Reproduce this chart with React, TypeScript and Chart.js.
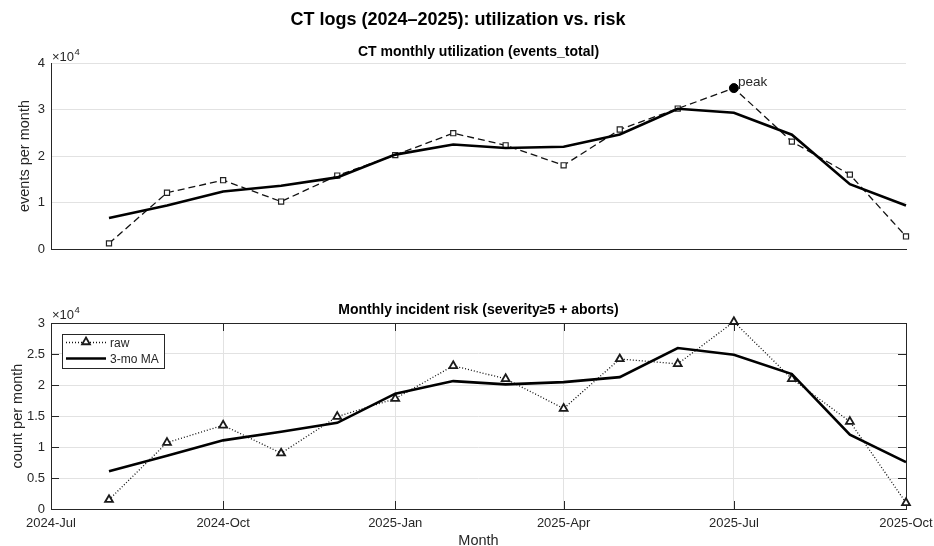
import React, { useEffect, useRef } from "react";
import { Chart, registerables } from "chart.js";

Chart.register(...registerables);

// ---------- data ----------
const months = [
  "2024-08", "2024-09", "2024-10", "2024-11", "2024-12",
  "2025-01", "2025-02", "2025-03", "2025-04", "2025-05",
  "2025-06", "2025-07", "2025-08", "2025-09", "2025-10",
];
const eventsRaw = [1200, 12100, 14800, 10200, 15800, 20200, 24900, 22300, 18000, 25700, 30200, 34600, 23100, 16000, 2700];
const eventsMA = [6650, 9370, 12370, 13600, 15400, 20300, 22470, 21730, 22000, 24630, 30170, 29300, 24570, 13930, 9350];
const riskRaw = [1500, 10700, 13500, 9000, 14900, 17800, 23100, 21000, 16200, 24200, 23400, 30200, 21000, 14100, 1000];
const riskMA = [6100, 8570, 11070, 12470, 13900, 18600, 20630, 20100, 20470, 21270, 25970, 24870, 21770, 12000, 7550];
const quarterTicks = ["2024-07", "2024-10", "2025-01", "2025-04", "2025-07", "2025-10"];
const quarterLabels = ["2024-Jul", "2024-Oct", "2025-Jan", "2025-Apr", "2025-Jul", "2025-Oct"];

const mainTitle = "CT logs (2024\u20132025): utilization vs. risk";
const topTitle = "CT monthly utilization (events_total)";
const bottomTitle = "Monthly incident risk (severity\u22655 + aborts)";
const topYLabel = "events per month";
const bottomYLabel = "count per month";
const xLabel = "Month";
const legendLabels = ["raw", "3-mo MA"];

// ---------- helpers ----------
const FONT = '"Liberation Sans", Arial, Helvetica, sans-serif';
const AXIS = "#262626";
const GRID = "#e2e2e2";

function dayOf(ym: string) {
  const [y, m] = ym.split("-").map(Number);
  return (Date.UTC(y, m - 1, 1) - Date.UTC(2024, 6, 1)) / 86400000;
}
const X_MIN = dayOf(quarterTicks[0]);
const X_MAX = dayOf(quarterTicks[quarterTicks.length - 1]);
const pts = (vals: number[]) => months.map((m, i) => ({ x: dayOf(m), y: vals[i] }));

function drawExp(ctx: CanvasRenderingContext2D, x: number, y: number) {
  ctx.save();
  ctx.fillStyle = AXIS;
  ctx.textBaseline = "middle";
  ctx.textAlign = "left";
  ctx.font = `13px ${FONT}`;
  ctx.fillText("\u00d710", x, y);
  const w = ctx.measureText("\u00d710").width;
  ctx.font = `9.5px ${FONT}`;
  ctx.fillText("4", x + w + 0.5, y - 5);
  ctx.restore();
}

function drawYLabel(ctx: CanvasRenderingContext2D, text: string, x: number, y: number) {
  ctx.save();
  ctx.translate(x, y);
  ctx.rotate(-Math.PI / 2);
  ctx.fillStyle = AXIS;
  ctx.font = `14.5px ${FONT}`;
  ctx.textAlign = "center";
  ctx.textBaseline = "middle";
  ctx.fillText(text, 0, 0);
  ctx.restore();
}

function drawTitle(ctx: CanvasRenderingContext2D, text: string, x: number, y: number, size: number) {
  ctx.save();
  ctx.fillStyle = "#000";
  ctx.font = `bold ${size}px ${FONT}`;
  ctx.textAlign = "center";
  ctx.textBaseline = "middle";
  ctx.fillText(text, x, y);
  ctx.restore();
}

function triangle(ctx: CanvasRenderingContext2D, x: number, y: number, r: number) {
  const s = Math.sin((2 * Math.PI) / 3) * r;
  ctx.beginPath();
  ctx.moveTo(x, y - r);
  ctx.lineTo(x + s, y + r / 2);
  ctx.lineTo(x - s, y + r / 2);
  ctx.closePath();
}

export default function App() {
  const topRef = useRef<HTMLCanvasElement>(null);
  const botRef = useRef<HTMLCanvasElement>(null);

  useEffect(() => {
    const peakIdx = eventsRaw.indexOf(Math.max(...eventsRaw));

    const topPlugin = {
      id: "topDecor",
      afterDraw(chart: any) {
        const ctx = chart.ctx as CanvasRenderingContext2D;
        const a = chart.chartArea;
        drawTitle(ctx, mainTitle, 458, 20, 18);
        drawTitle(ctx, topTitle, (a.left + a.right) / 2, 52, 14);
        drawYLabel(ctx, topYLabel, 25, (a.top + a.bottom) / 2);
        drawExp(ctx, a.left + 1, a.top - 6);
        const xs = chart.scales.x, ys = chart.scales.y;
        const px = xs.getPixelForValue(dayOf(months[peakIdx]));
        const py = ys.getPixelForValue(eventsRaw[peakIdx]);
        ctx.save();
        ctx.fillStyle = AXIS;
        ctx.font = `13.5px ${FONT}`;
        ctx.textAlign = "left";
        ctx.textBaseline = "middle";
        ctx.fillText("peak", px + 4, py - 6);
        ctx.restore();
      },
    };

    const topChart = new Chart(topRef.current!, {
      type: "line",
      data: {
        datasets: [
          {
            data: pts(eventsRaw),
            borderColor: "#111",
            borderWidth: 1.3,
            borderDash: [7, 4],
            pointStyle: "rect",
            pointRadius: 3.6,
            pointBorderColor: "#222",
            pointBorderWidth: 1.2,
            pointBackgroundColor: "#fff",
            tension: 0,
            clip: false,
            order: 2,
          },
          {
            data: pts(eventsMA),
            borderColor: "#000",
            borderWidth: 2.6,
            pointRadius: 0,
            tension: 0,
            clip: false,
            order: 1,
          },
          {
            data: [{ x: dayOf(months[peakIdx]), y: eventsRaw[peakIdx] }],
            showLine: false,
            pointRadius: 4.5,
            pointBackgroundColor: "#000",
            pointBorderColor: "#000",
            clip: false,
            order: 0,
          },
        ] as any,
      },
      options: {
        responsive: false,
        animation: false,
        events: [],
        layout: { padding: { left: 0, right: 28, top: 63, bottom: 0 } },
        plugins: { legend: { display: false }, title: { display: false }, tooltip: { enabled: false } },
        scales: {
          x: {
            type: "linear",
            min: X_MIN,
            max: X_MAX,
            grid: { display: false, drawTicks: false },
            border: { display: true, color: AXIS, width: 1 },
            ticks: { display: false },
            afterFit: (s: any) => { s.height = 41; s.paddingLeft = 0; s.paddingRight = 0; },
          },
          y: {
            type: "linear",
            min: 0,
            max: 40000,
            grid: { color: GRID, drawTicks: false, lineWidth: 1 },
            border: { display: true, color: AXIS, width: 1 },
            ticks: {
              stepSize: 10000,
              padding: 6,
              color: AXIS,
              font: { family: FONT, size: 13 },
              callback: (v: any) => String(Number(v) / 10000),
            },
            afterFit: (s: any) => { s.width = 51; },
          },
        },
      } as any,
      plugins: [topPlugin],
    });

    const botPlugin = {
      id: "botDecor",
      beforeDatasetsDraw(chart: any) {
        const ctx = chart.ctx as CanvasRenderingContext2D;
        const a = chart.chartArea;
        const xs = chart.scales.x, ys = chart.scales.y;
        ctx.save();
        ctx.strokeStyle = AXIS;
        ctx.lineWidth = 1;
        const L = 8;
        ctx.beginPath();
        quarterTicks.forEach((q) => {
          const x = Math.round(xs.getPixelForValue(dayOf(q))) + 0.5;
          ctx.moveTo(x, a.bottom);
          ctx.lineTo(x, a.bottom - L);
          ctx.moveTo(x, a.top);
          ctx.lineTo(x, a.top + L);
        });
        ys.ticks.forEach((t: any) => {
          const y = Math.round(ys.getPixelForValue(t.value)) + 0.5;
          ctx.moveTo(a.left, y);
          ctx.lineTo(a.left + L, y);
          ctx.moveTo(a.right, y);
          ctx.lineTo(a.right - L, y);
        });
        ctx.stroke();
        ctx.strokeRect(Math.round(a.left) + 0.5, Math.round(a.top) + 0.5, Math.round(a.right - a.left), Math.round(a.bottom - a.top));
        ctx.restore();
      },
      afterDraw(chart: any) {
        const ctx = chart.ctx as CanvasRenderingContext2D;
        const a = chart.chartArea;
        drawTitle(ctx, bottomTitle, (a.left + a.right) / 2, 20, 14);
        drawYLabel(ctx, bottomYLabel, 18, (a.top + a.bottom) / 2);
        drawExp(ctx, a.left + 1, a.top - 8);
        ctx.save();
        ctx.fillStyle = AXIS;
        ctx.font = `14.5px ${FONT}`;
        ctx.textAlign = "center";
        ctx.textBaseline = "middle";
        ctx.fillText(xLabel, (a.left + a.right) / 2, 251);
        // legend
        const bx = a.left + 11, by = a.top + 11, bw = 102, bh = 34;
        ctx.fillStyle = "#fff";
        ctx.fillRect(bx, by, bw, bh);
        ctx.strokeStyle = AXIS;
        ctx.lineWidth = 1;
        ctx.strokeRect(bx + 0.5, by + 0.5, bw, bh);
        const y1 = by + 8.5, y2 = by + 24.5;
        ctx.strokeStyle = "#111";
        ctx.lineWidth = 1.3;
        ctx.setLineDash([1, 2]);
        ctx.beginPath();
        ctx.moveTo(bx + 4, y1);
        ctx.lineTo(bx + 44, y1);
        ctx.stroke();
        ctx.setLineDash([]);
        triangle(ctx, bx + 24, y1 - 0.5, 4.5);
        ctx.fillStyle = "#fff";
        ctx.fill();
        ctx.lineWidth = 1.8;
        ctx.strokeStyle = "#1a1a1a";
        ctx.stroke();
        ctx.lineWidth = 2.6;
        ctx.strokeStyle = "#000";
        ctx.beginPath();
        ctx.moveTo(bx + 4, y2);
        ctx.lineTo(bx + 44, y2);
        ctx.stroke();
        ctx.fillStyle = AXIS;
        ctx.font = `12px ${FONT}`;
        ctx.textAlign = "left";
        ctx.fillText(legendLabels[0], bx + 48, y1 + 1);
        ctx.fillText(legendLabels[1], bx + 48, y2 + 1);
        ctx.restore();
      },
    };

    const botChart = new Chart(botRef.current!, {
      type: "line",
      data: {
        datasets: [
          {
            data: pts(riskRaw),
            borderColor: "#111",
            borderWidth: 1.3,
            borderDash: [1, 2],
            pointStyle: "triangle",
            pointRadius: 4.5,
            pointBorderColor: "#1a1a1a",
            pointBorderWidth: 1.8,
            pointBackgroundColor: "#fff",
            tension: 0,
            clip: false,
            order: 2,
          },
          {
            data: pts(riskMA),
            borderColor: "#000",
            borderWidth: 2.6,
            pointRadius: 0,
            tension: 0,
            clip: false,
            order: 1,
          },
        ] as any,
      },
      options: {
        responsive: false,
        animation: false,
        events: [],
        layout: { padding: { left: 0, right: 28, top: 33, bottom: 0 } },
        plugins: { legend: { display: false }, title: { display: false }, tooltip: { enabled: false } },
        scales: {
          x: {
            type: "linear",
            min: X_MIN,
            max: X_MAX,
            afterBuildTicks: (s: any) => {
              s.ticks = quarterTicks.map((q) => ({ value: dayOf(q) }));
            },
            grid: { color: GRID, drawTicks: false, lineWidth: 1 },
            border: { display: false },
            ticks: {
              autoSkip: false,
              maxRotation: 0,
              padding: 7,
              color: AXIS,
              font: { family: FONT, size: 13 },
              callback: (v: any) => {
                const i = quarterTicks.findIndex((q) => dayOf(q) === Number(v));
                return i >= 0 ? quarterLabels[i] : "";
              },
            },
            afterFit: (s: any) => { s.height = 37; s.paddingLeft = 0; s.paddingRight = 0; },
          },
          y: {
            type: "linear",
            min: 0,
            max: 30000,
            grid: { color: GRID, drawTicks: false, lineWidth: 1 },
            border: { display: false },
            ticks: {
              stepSize: 5000,
              padding: 6,
              color: AXIS,
              font: { family: FONT, size: 13 },
              callback: (v: any) => String(Number(v) / 10000),
            },
            afterFit: (s: any) => { s.width = 51; s.paddingTop = 0; s.paddingBottom = 0; },
          },
        },
      } as any,
      plugins: [botPlugin],
    });

    return () => {
      topChart.destroy();
      botChart.destroy();
    };
  }, []);

  return (
    <div style={{ position: "fixed", left: 0, top: 0, width: 934, height: 546, background: "#fff", overflow: "hidden" }}>
      <canvas ref={topRef} width={934} height={290} style={{ position: "absolute", left: 0, top: 0, width: 934, height: 290 }} />
      <canvas ref={botRef} width={934} height={256} style={{ position: "absolute", left: 0, top: 290, width: 934, height: 256 }} />
    </div>
  );
}
